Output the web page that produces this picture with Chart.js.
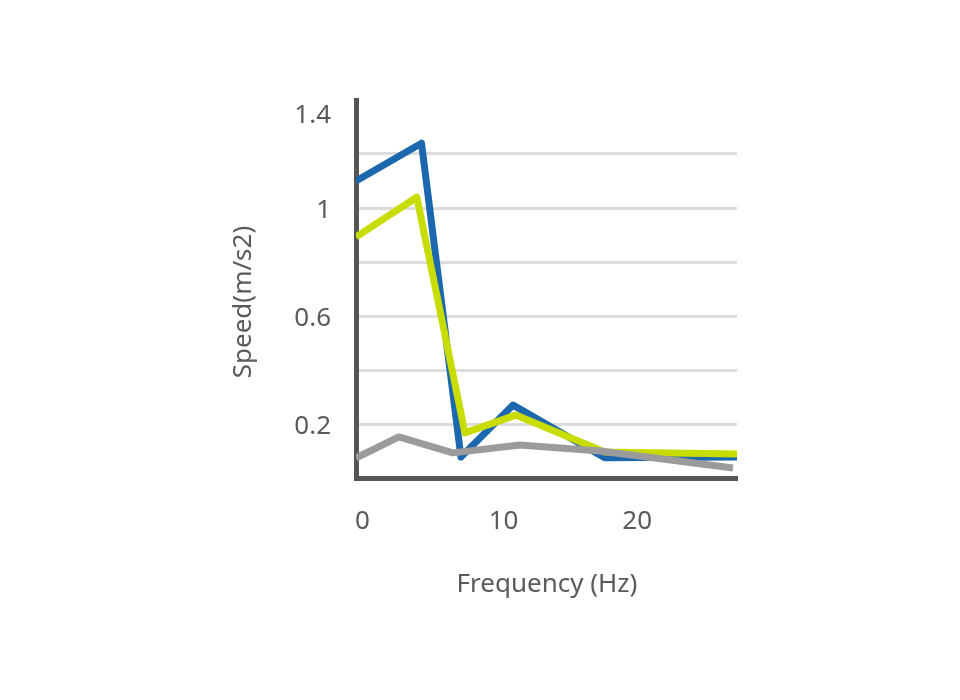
<!DOCTYPE html>
<html>
<head>
<meta charset="utf-8">
<script src="https://cdn.jsdelivr.net/npm/chart.js@4.4.1/dist/chart.umd.min.js"></script>
<style>
  html, body { margin: 0; padding: 0; background: #fff; }
  #wrap { width: 960px; height: 700px; }
</style>
</head>
<body>
<div id="wrap"><canvas id="freqChart" width="960" height="700"></canvas></div>
<script>
// data
const blueX = [0, 4.9, 7.85, 11.75, 18.6, 28.5]
const blueY = [1.1, 1.24, 0.078, 0.27, 0.075, 0.078]

const yellowX = [0, 4.55, 8.15, 11.95, 18.6, 28.5]
const yellowY = [0.893, 1.04, 0.167, 0.233, 0.096, 0.089]

const grayX = [0, 3.2, 7.25, 12.25, 18.25, 28.2]
const grayY = [0.074, 0.152, 0.093, 0.122, 0.1, 0.037]

const xTicks = [0, 10, 20]
const yTickLabels = [0.2, 0.6, 1, 1.4]

const xTitle = 'Frequency (Hz)'
const yTitle = 'Speed(m/s2)'

const textColor = '#5a5a5a'
const axisColor = '#555555'
const fontFamily = '"Noto Sans", sans-serif'

const toPoints = (xs, ys) => xs.map((x, i) => ({ x: x, y: ys[i] }))

// titles and the top y label are drawn by hand so they sit where the original has them
const axisText = {
  id: 'axisText',
  afterDraw(chart) {
    const { ctx } = chart
    ctx.save()
    ctx.fillStyle = textColor
    ctx.font = '26px ' + fontFamily

    ctx.textAlign = 'center'
    ctx.textBaseline = 'alphabetic'
    ctx.fillText(xTitle, 547, 592)

    ctx.save()
    ctx.translate(251, 302)
    ctx.rotate(-Math.PI / 2)
    ctx.fillText(yTitle, 0, 0)
    ctx.restore()

    ctx.textAlign = 'right'
    ctx.fillText(String(yTickLabels[yTickLabels.length - 1]), 331, 123)
    ctx.restore()
  },
}

const lineStyle = {
  borderWidth: 7,
  pointRadius: 0,
  pointHoverRadius: 0,
  tension: 0,
  borderJoinStyle: 'round',
  borderCapStyle: 'butt',
  fill: false,
  clip: 0,
}

new Chart('freqChart', {
  type: 'line',
  data: {
    datasets: [
      { ...lineStyle, label: 'gray', data: toPoints(grayX, grayY), borderColor: '#9b9b9b' },
      { ...lineStyle, label: 'yellow', data: toPoints(yellowX, yellowY), borderColor: '#c9dc00' },
      { ...lineStyle, label: 'blue', data: toPoints(blueX, blueY), borderColor: '#1c68ae' },
    ],
  },
  options: {
    responsive: false,
    animation: false,
    events: [],
    layout: { padding: { left: 0, top: 100, right: 223, bottom: 0 } },
    plugins: {
      legend: { display: false },
      tooltip: { enabled: false },
      title: { display: false },
    },
    scales: {
      x: {
        type: 'linear',
        min: 0,
        max: 28.5,
        afterFit: (scale) => { scale.height = 222 },
        grid: { display: false, drawTicks: false },
        border: { display: true, color: axisColor, width: 5 },
        afterBuildTicks: (scale) => { scale.ticks = xTicks.map((v) => ({ value: v })) },
        ticks: {
          align: 'start',
          labelOffset: -1,
          padding: 28,
          color: textColor,
          font: { family: fontFamily, size: 26 },
          maxRotation: 0,
        },
      },
      y: {
        min: 0,
        max: 1.4,
        afterFit: (scale) => { scale.width = 356 },
        grid: {
          drawTicks: false,
          lineWidth: 3,
          color: (c) => {
            const v = c.tick ? Math.round(c.tick.value * 10) : 0
            return v === 0 || v === 14 ? 'rgba(0,0,0,0)' : '#dddddd'
          },
        },
        border: { display: true, color: axisColor, width: 5 },
        ticks: {
          stepSize: 0.2,
          padding: 25,
          labelOffset: 3,
          color: textColor,
          font: { family: fontFamily, size: 26 },
          callback: (value) => {
            const v = Math.round(value * 10) / 10
            // top label is drawn by the plugin
            if (v === yTickLabels[yTickLabels.length - 1]) return ''
            return yTickLabels.includes(v) ? String(v) : ''
          },
        },
      },
    },
  },
  plugins: [axisText],
})
</script>
</body>
</html>
